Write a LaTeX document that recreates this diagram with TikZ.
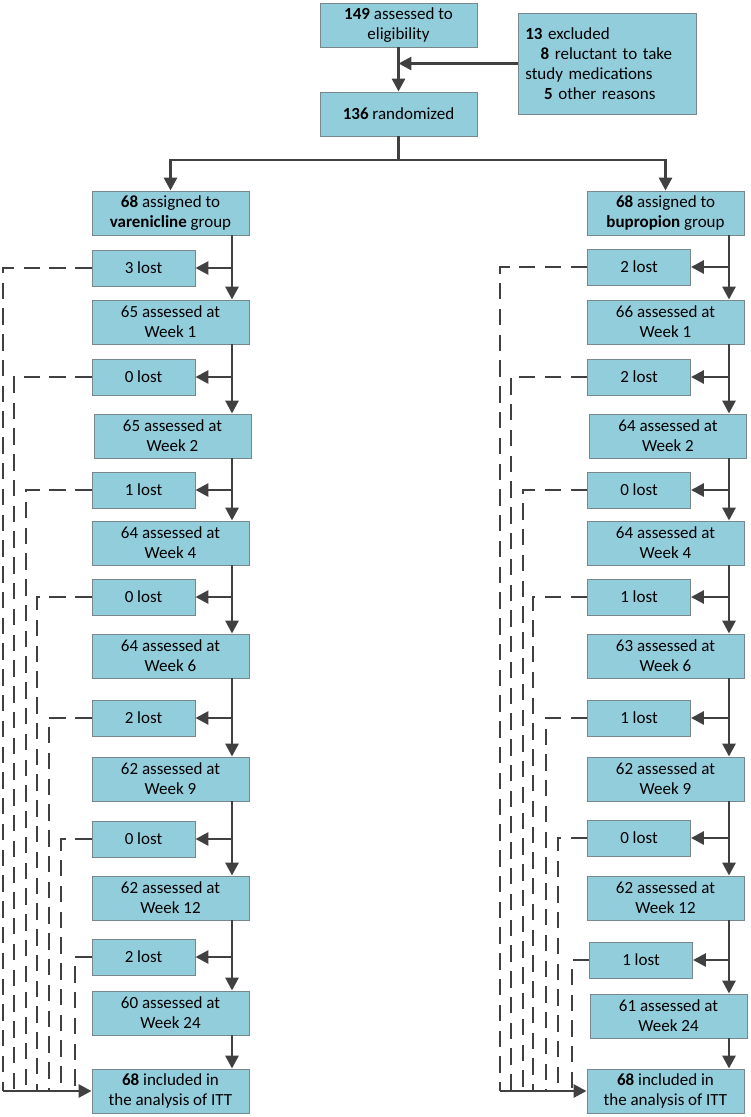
\documentclass[tikz,border=0pt]{standalone}
\usepackage{fontspec}
\setmainfont{Carlito}
\usetikzlibrary{arrows.meta}
\definecolor{boxfill}{RGB}{146,205,220}
\definecolor{boxedge}{RGB}{120,135,140}
\definecolor{linegray}{RGB}{64,64,64}
\tikzset{%
  stage/.style = {rectangle,draw=boxedge,fill=boxfill,line width=0.8pt,
        minimum width=4.71cm,minimum height=1.32cm,inner sep=0pt,align=center},
  lost/.style = {stage,minimum width=3.09cm,minimum height=1.08cm},
  link/.style = {linegray,line width=2.5pt},
  flow/.style = {link,-{Triangle[length=11pt,width=11pt]}},
  back/.style = {link,dash pattern=on 14pt off 8pt}
}

\begin{document}
\begin{tikzpicture}[x=0.03cm,y=-0.03cm,font=\fontsize{14.5}{17}\selectfont]
\useasboundingbox (0,0) rectangle (750,1117);

% screening
\node[stage] (elig) at (398.5,25) {\textbf{149} assessed to\\eligibility};
\node[stage,minimum width=5.34cm,minimum height=3.03cm,text width=4.9cm,align=left] (excl) at (607,63.5)
     {\textbf{13} excluded\\\hspace{13pt}\textbf{8} reluctant to take\\study medications\\\hspace{16pt}\textbf{5} other reasons};
\node[stage] (rand) at (398.5,114) {\textbf{136} randomized};
\coordinate (split) at (398.5,160);

\draw[flow] (elig) -- (rand);
\draw[flow] (excl.west) -- (excl.west -| elig);
\draw[link] (rand.south) -- (split);

% varenicline arm
\node[stage] (vA) at (170.5,213) {\textbf{68} assigned to\\\textbf{varenicline} group};
\node[lost] (vL1) at (143.5,268) {3 lost};
\node[stage] (vW1) at (170.5,322) {65 assessed at\\Week 1};
\node[lost] (vL2) at (143.5,377) {0 lost};
\node[stage] (vW2) at (172.5,436) {65 assessed at\\Week 2};
\node[lost] (vL3) at (143.5,490) {1 lost};
\node[stage] (vW4) at (170.5,543) {64 assessed at\\Week 4};
\node[lost] (vL4) at (143.5,597) {0 lost};
\node[stage] (vW6) at (170.5,656) {64 assessed at\\Week 6};
\node[lost] (vL5) at (143.5,718) {2 lost};
\node[stage] (vW9) at (170.5,779) {62 assessed at\\Week 9};
\node[lost] (vL6) at (143.5,839) {0 lost};
\node[stage] (vW12) at (170.5,898) {62 assessed at\\Week 12};
\node[lost] (vL7) at (143.5,957) {2 lost};
\node[stage] (vW24) at (170.5,1013) {60 assessed at\\Week 24};
\node[stage] (vITT) at (170.5,1091) {\textbf{68} included in\\the analysis of ITT};

% bupropion arm
\node[stage] (bA) at (665.5,213) {\textbf{68} assigned to\\\textbf{bupropion} group};
\node[lost] (bL1) at (639,267) {2 lost};
\node[stage] (bW1) at (665.5,322) {66 assessed at\\Week 1};
\node[lost] (bL2) at (639,377) {2 lost};
\node[stage] (bW2) at (668,436) {64 assessed at\\Week 2};
\node[lost] (bL3) at (639,490) {0 lost};
\node[stage] (bW4) at (665.5,543) {64 assessed at\\Week 4};
\node[lost] (bL4) at (639,597) {1 lost};
\node[stage] (bW6) at (665.5,656) {63 assessed at\\Week 6};
\node[lost] (bL5) at (639,718) {1 lost};
\node[stage] (bW9) at (665.5,779) {62 assessed at\\Week 9};
\node[lost] (bL6) at (639,838) {0 lost};
\node[stage] (bW12) at (665.5,898) {62 assessed at\\Week 12};
\node[lost] (bL7) at (641,960) {1 lost};
\node[stage] (bW24) at (668.5,1016) {61 assessed at\\Week 24};
\node[stage] (bITT) at (665.5,1091) {\textbf{68} included in\\the analysis of ITT};

\draw[flow] (split) -| (vA.north);
\draw[flow] (split) -| (bA.north);

% main lines
\coordinate (vx) at (232,0);
\coordinate (bx) at (729,0);
\foreach \a/\b in {vA/vW1,vW1/vW2,vW2/vW4,vW4/vW6,vW6/vW9,vW9/vW12,vW12/vW24,vW24/vITT}
  \draw[flow] (\a.south -| vx) -- (\b.north -| vx);
\foreach \a/\b in {bA/bW1,bW1/bW2,bW2/bW4,bW4/bW6,bW6/bW9,bW9/bW12,bW12/bW24,bW24/bITT}
  \draw[flow] (\a.south -| bx) -- (\b.north -| bx);
\foreach \l in {vL1,vL2,vL3,vL4,vL5,vL6,vL7}
  \draw[flow] (\l.east -| vx) -- (\l.east);
\foreach \l in {bL1,bL2,bL3,bL4,bL5,bL6,bL7}
  \draw[flow] (\l.east -| bx) -- (\l.east);

% lost back to ITT
\foreach \l/\x in {vL1/3,vL2/14,vL3/26,vL4/37,vL5/49,vL6/61,vL7/75}{
  \coordinate (d\l) at (\x,1091);
  \draw[back] (\l.west) -| (d\l);
}
\foreach \l/\x in {bL1/500,bL2/511,bL3/523,bL4/533,bL5/546,bL6/558,bL7/572}{
  \coordinate (d\l) at (\x,1091);
  \draw[back] (\l.west) -| (d\l);
}
\draw[flow] (dvL1) -- (vITT.west);
\draw[flow] (dbL1) -- (bITT.west);
\end{tikzpicture}
\end{document}
